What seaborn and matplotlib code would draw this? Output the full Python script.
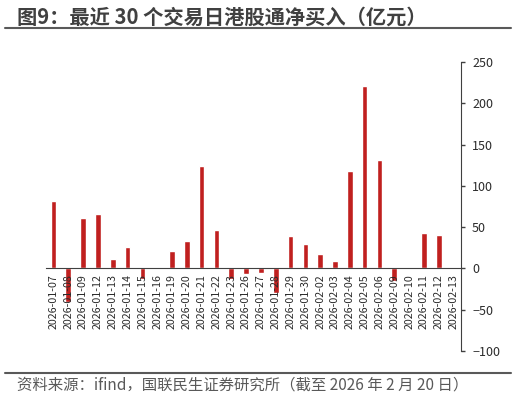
import pandas as pd
import seaborn as sns
import matplotlib.pyplot as plt

dates = ["2026-01-07", "2026-01-08", "2026-01-09", "2026-01-12", "2026-01-13", "2026-01-14",
         "2026-01-15", "2026-01-16", "2026-01-19", "2026-01-20", "2026-01-21", "2026-01-22",
         "2026-01-23", "2026-01-26", "2026-01-27", "2026-01-28", "2026-01-29", "2026-01-30",
         "2026-02-02", "2026-02-03", "2026-02-04", "2026-02-05", "2026-02-06", "2026-02-09",
         "2026-02-10", "2026-02-11", "2026-02-12", "2026-02-13"]
net_buy = [82, -41, 61, 66, 12, 26,
           -13, 1, 21, 33, 124, 47,
           -13, -7, -5, -30, 39, 29,
           17, 9, 118, 221, 131, -15,
           0, 43, 40, 0]
y_ticks = [250, 200, 150, 100, 50, 0, -50, -100]

title = "图9：最近 30 个交易日港股通净买入（亿元）"
source = "资料来源：ifind，国联民生证券研究所（截至 2026 年 2 月 20 日）"

sns.set_style("white")
plt.rcParams["font.family"] = ["Noto Sans CJK SC", "DejaVu Sans"]

tabela = pd.DataFrame({"date": dates, "value": net_buy})

fig = plt.figure(figsize=(5.16, 4.01), dpi=100)
ax = fig.add_axes([46 / 516, 1 - 351 / 401, 415 / 516, 289 / 401])

sns.barplot(data=tabela, x="date", y="value", color="#C0201F", width=0.38,
            saturation=1, ax=ax)

ax.set_xlim(-0.5, len(dates) - 0.5)
ax.set_ylim(-100, 250)
ax.set_xlabel("")
ax.set_ylabel("")
ax.set_axisbelow(False)

# eixo y na direita
ax.yaxis.tick_right()
ax.set_yticks(y_ticks)
ax.tick_params(axis="y", direction="out", length=3, width=1, color="#404040",
               labelsize=9, labelcolor="#2b2b2b", pad=5)

# eixo x passando no zero
ax.spines["bottom"].set_position(("data", 0))
ax.spines["bottom"].set_color("#404040")
ax.spines["right"].set_color("#404040")
ax.spines["top"].set_visible(False)
ax.spines["left"].set_visible(False)
ax.set_xticks(range(len(dates)))
ax.set_xticklabels(dates, rotation=90)
ax.set_xticks([i - 0.5 for i in range(len(dates) + 1)], minor=True)
ax.tick_params(axis="x", which="major", length=0, labelsize=7.7, labelcolor="#2b2b2b", pad=4)
ax.tick_params(axis="x", which="minor", direction="out", length=3, width=1, color="#404040")

fig.text(17 / 516, 1 - 17 / 401, title, fontsize=14.6, fontweight="bold",
         color="#404040", va="center", ha="left")
fig.add_artist(plt.Line2D([5 / 516, 511 / 516], [1 - 28 / 401, 1 - 28 / 401],
                          color="#595959", linewidth=1.5))
fig.add_artist(plt.Line2D([5 / 516, 511 / 516], [1 - 373 / 401, 1 - 373 / 401],
                          color="#595959", linewidth=1.5))
fig.text(17 / 516, 1 - 385 / 401, source, fontsize=11.1, color="#595959",
         va="center", ha="left")

fig.savefig("out.png", dpi=100)
